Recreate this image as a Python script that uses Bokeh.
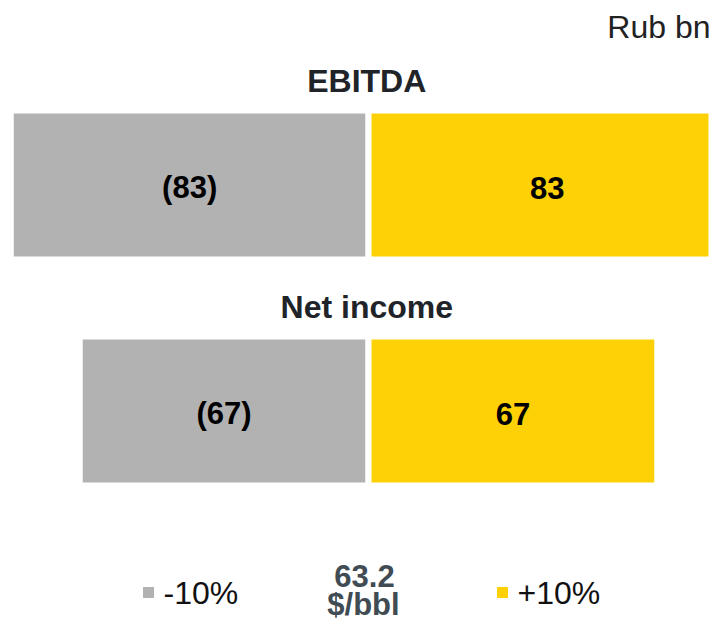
from bokeh.plotting import figure
from bokeh.models import Range1d, ColumnDataSource
from bokeh.core.properties import value
from bokeh.embed import file_html
from bokeh.resources import INLINE

# ---- data ----
metrics = ["EBITDA", "Net income"]
minus10 = [-83, -67]
plus10 = [83, 67]
legend_labels = ["-10%", "+10%"]
base_price = "63.2"
base_unit = "$/bbl"
unit_label = "Rub bn"

GRAY = "#B2B2B2"
YELLOW = "#FDD106"
FONT = "Liberation Sans"

PX_X = 4.31   # px per unit
PX_Y = 226.0  # px per row
W, H = 711, 625
X0 = 368      # frame px of zero
Y0 = 184.5    # frame px of first row centre


def dx(px):
    return (px - X0) / PX_X


def dy(px):
    return (px - Y0) / PX_Y


rows = list(range(len(metrics)))

p = figure(width=W, height=H, output_backend="svg", toolbar_location=None,
           x_range=Range1d(dx(0), dx(W)),
           y_range=Range1d(dy(H), dy(0)),
           min_border=0, outline_line_color=None,
           background_fill_color="white", border_fill_color="white")
p.axis.visible = False
p.grid.visible = False

src = ColumnDataSource(dict(
    y=rows, neg=minus10, pos=plus10,
    negmid=[v / 2 for v in minus10], posmid=[v / 2 for v in plus10],
    neglab=[f"({abs(v)})" for v in minus10], poslab=[str(v) for v in plus10],
    title=metrics, ty=[r - 0.458 for r in rows], ly=[r + 0.012 for r in rows],
))

bh = 149 / PX_Y
p.hbar(y="y", left="neg", right=0, height=bh, source=src,
       fill_color=GRAY, line_color="white", line_width=6)
p.hbar(y="y", left=0, right="pos", height=bh, source=src,
       fill_color=YELLOW, line_color="white", line_width=6)

p.text(x=-0.4, y="ty", text="title", source=src, text_font=value(FONT),
       text_font_style="bold", text_font_size="32px", text_color="#202428",
       text_align="center", text_baseline="middle")
p.text(x="negmid", y="ly", text="neglab", source=src, text_font=value(FONT),
       text_font_style="bold", text_font_size="31px", text_color="#000000",
       text_align="center", text_baseline="middle")
p.text(x="posmid", y="ly", text="poslab", source=src, text_font=value(FONT),
       text_font_style="bold", text_font_size="31px", text_color="#000000",
       text_align="center", text_baseline="middle")

# unit label
p.text(x=[dx(710)], y=[dy(26)], text=[unit_label],
       text_font=value(FONT), text_font_size="32px", text_color="#222222",
       text_align="right", text_baseline="middle")

# legend (manual)
ly = dy(592)
p.scatter(x=[dx(148), dx(502)], y=[ly, ly], marker="square", size=11,
          fill_color=[GRAY, YELLOW], line_color=None)
p.text(x=[dx(163), dx(517)], y=[ly, ly], text=legend_labels,
       text_font=value(FONT), text_font_size="32px", text_color="#111111",
       text_align="left", text_baseline="middle")
p.text(x=[dx(364), dx(363)], y=[dy(575), dy(604)],
       text=[base_price, base_unit], text_font=value(FONT),
       text_font_style="bold", text_font_size="31px", text_color="#404B53",
       text_align="center", text_baseline="middle")

open("out.html", "w").write(file_html(p, INLINE))
